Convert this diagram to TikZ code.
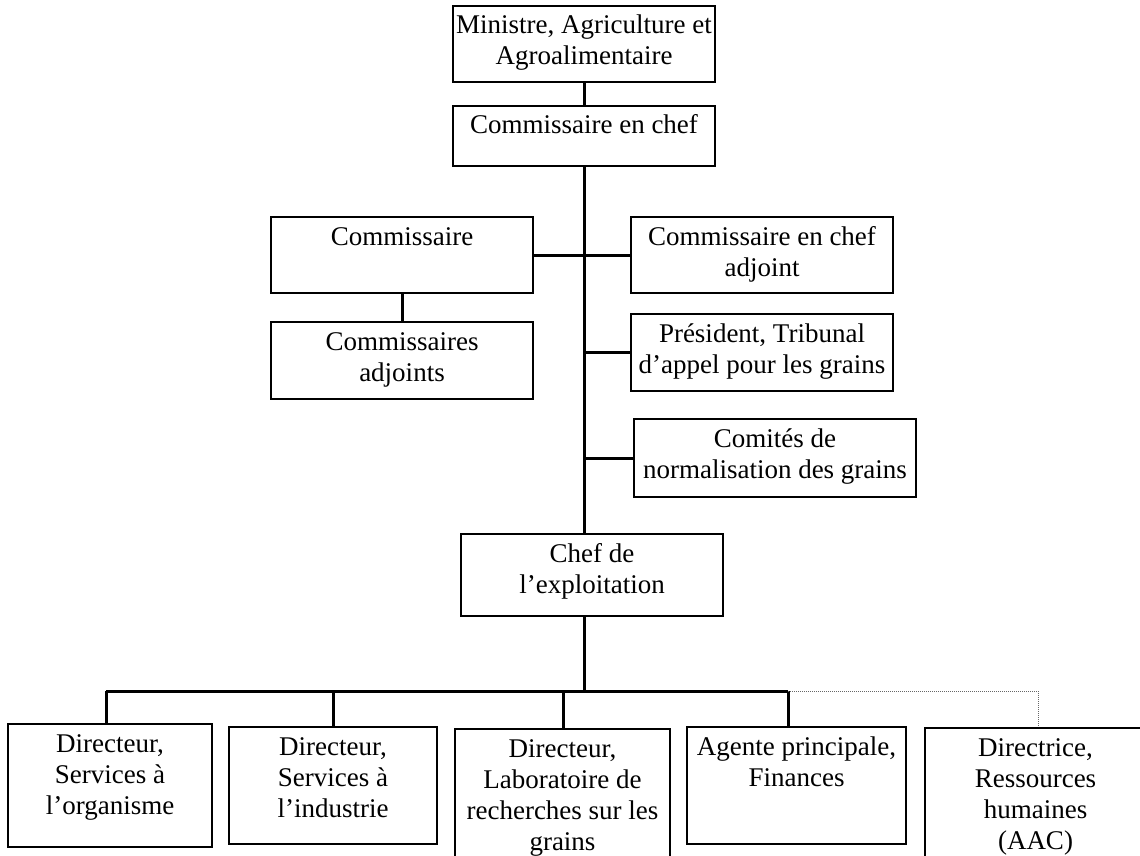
\documentclass[tikz,border=0pt]{standalone}
\usepackage{fontspec}
\setmainfont{Liberation Serif}
\usetikzlibrary{positioning}

% text of a box, set from the top
\newcommand{\orgtxt}[3]{\parbox[c][#2][t]{#1}{\centering\rule{0pt}{28pt}#3}}

\begin{document}
\begin{tikzpicture}[x=1pt,y=-1pt,
                    every node/.style={font=\fontsize{27}{31}\selectfont},
                    post/.style={draw=black,line width=2pt,inner sep=0pt},
                    link/.style={line width=3pt},
                    aux/.style={black!60,line width=1pt,dash pattern=on 1pt off 1pt}]
  \useasboundingbox (0,0) rectangle (1140,856);
  \clip (0,0) rectangle (1140,856);

  \node[post] (M) at (584,44) {\orgtxt{262pt}{76pt}{Ministre, Agriculture et\\Agroalimentaire}};
  \node[post] (C) at (584,136) {\orgtxt{262pt}{60pt}{Commissaire en chef}};
  \node[post] (Co) at (402,255) {\orgtxt{262pt}{76pt}{Commissaire}};
  \node[post] (CA) at (762,255) {\orgtxt{262pt}{76pt}{Commissaire en chef\\adjoint}};
  \node[post] (CAs) at (402,360.5) {\orgtxt{262pt}{77pt}{Commissaires\\adjoints}};
  \node[post] (P) at (762,352.5) {\orgtxt{262pt}{77pt}{Président, Tribunal\\d’appel pour les grains}};
  \node[post] (CN) at (775,458) {\orgtxt{282pt}{78pt}{Comités de\\normalisation des grains}};
  \node[post] (E) at (592,575) {\orgtxt{262pt}{82pt}{Chef de\\l’exploitation}};

  \node[post] (D1) at (110,785.5) {\orgtxt{204pt}{123pt}{Directeur,\\Services à\\l’organisme}};
  \node[post] (D2) at (333,785.5) {\orgtxt{208pt}{117pt}{Directeur,\\Services à\\l’industrie}};
  \node[post] (D3) at (562.5,804.5) {\orgtxt{215pt}{151pt}{Directeur,\\Laboratoire de\\recherches sur les\\grains}};
  \node[post] (D4) at (796.5,785.5) {\orgtxt{219pt}{117pt}{Agente principale,\\Finances}};
  \node[post] (D5) at (1035.5,804) {\orgtxt{221pt}{152pt}{Directrice,\\Ressources\\humaines\\(AAC)}};

  % bus points
  \coordinate (T) at (584,691);
  \coordinate (B1) at (106,691);
  \coordinate (B2) at (333,691);
  \coordinate (B3) at (563,691);
  \coordinate (B4) at (788,691);
  \coordinate (B5) at (1038,691);

  \draw[link] (M) -- (C);
  \draw[link] (C.south) -- (C.south |- E.north);
  \draw[link] (C.south |- E.south) -- (T);
  \draw[link] (Co) -- (CA);
  \draw[link] (Co.south) -- (CAs.north);
  \draw[link] (P.west -| T) -- (P.west);
  \draw[link] (CN.west -| T) -- (CN.west);

  \draw[link] (B1) -- (B4);
  \foreach \b/\d in {B1/D1,B2/D2,B3/D3,B4/D4}
    \draw[link] (\b) -- (\b |- \d.north);
  \draw[aux] (B4) -- (B5) -- (B5 |- D5.north);
\end{tikzpicture}
\end{document}
